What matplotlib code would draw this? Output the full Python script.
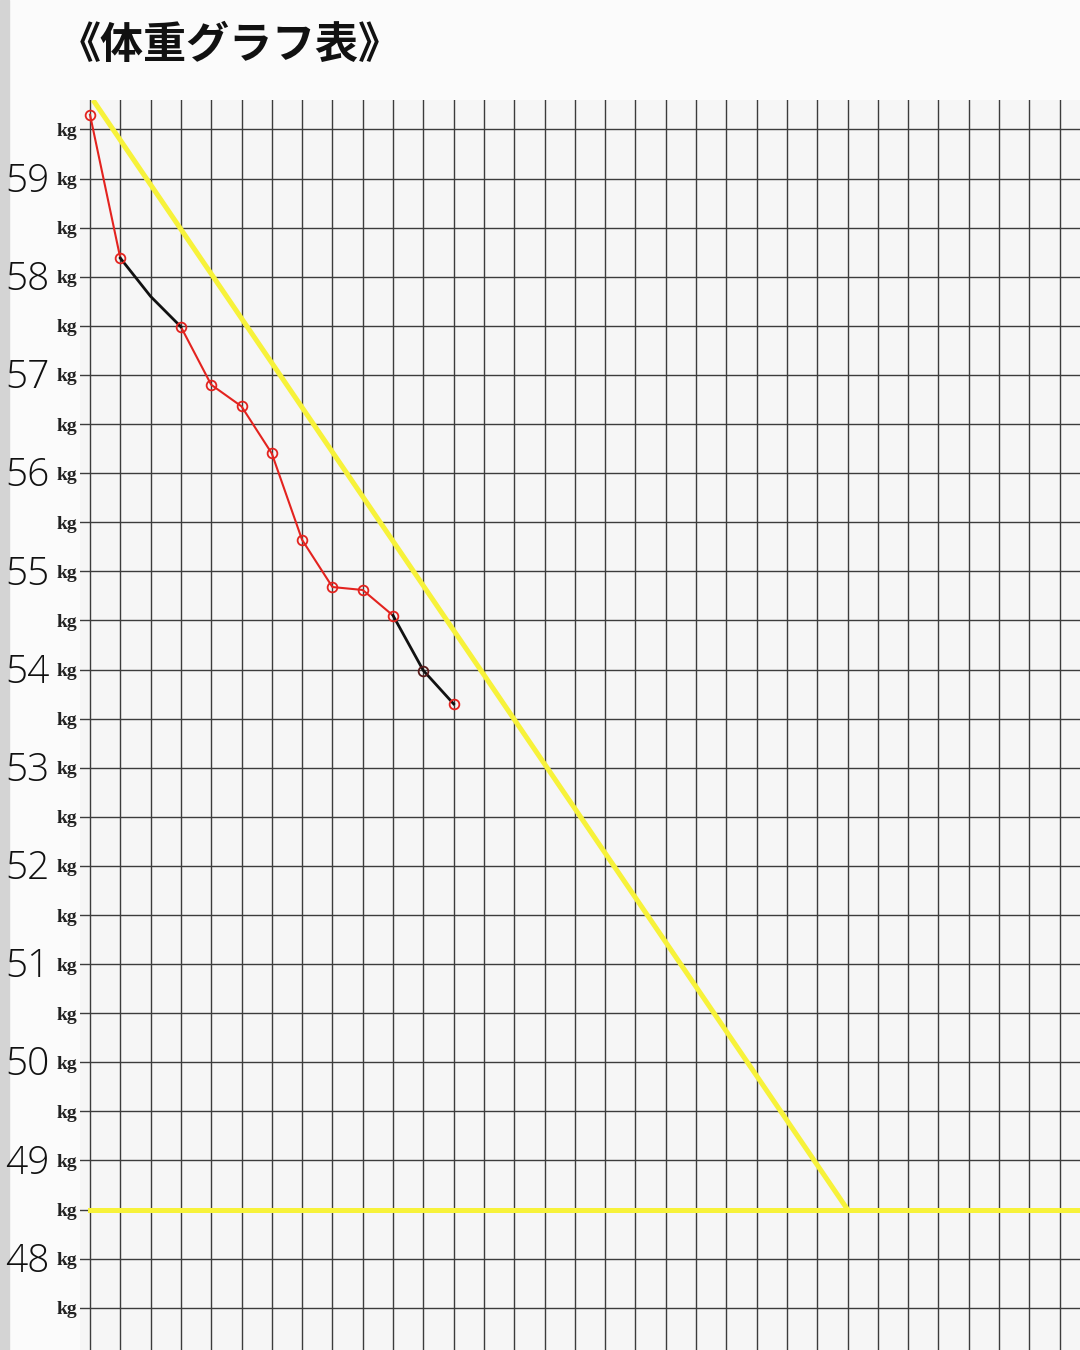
import matplotlib
matplotlib.use('Agg')
import matplotlib.pyplot as plt

# Hand-drawn weight chart on graph paper.
days = list(range(13))
weights = [59.65, 58.19, 57.80, 57.49, 56.90, 56.68, 56.20, 55.32, 54.84, 54.81, 54.55, 53.99, 53.65]
# which stretch of the line is drawn in which ink (start idx, end idx)
red_parts = [(0, 1), (3, 10)]
black_parts = [(1, 3), (10, 12)]
red_marks = [0, 1, 3, 4, 5, 6, 7, 8, 9, 10, 12]
dark_marks = [11]

goal_x = [0.1, 25, 32.7]
goal_y = [59.8, 48.5, 48.5]
goal_start_y = 48.5

levels = [47.5 + 0.5 * i for i in range(25)]
big_labels = [48, 49, 50, 51, 52, 53, 54, 55, 56, 57, 58, 59]
n_cols = 33

title = '《体重グラフ表》'

fig = plt.figure(figsize=(10.8, 13.5), dpi=100)
fig.patch.set_facecolor('#fbfbfb')
# edge of the sheet in the photo
fig.add_artist(plt.Rectangle((0, 0), 9 / 1080, 1, transform=fig.transFigure,
                             color='#d4d4d4', zorder=0))

ax = fig.add_axes([80 / 1080, 0, 1 - 80 / 1080, 1 - 100 / 1350])
ax.set_facecolor('#f6f6f6')
ax.set_xlim(-0.33, 32.67)
ax.set_ylim(47.07, 59.8)

# graph paper
for lv in levels:
    ax.plot([-0.33, 32.67], [lv, lv], color='#3c3c3c', lw=1.0, zorder=1)
for c in range(n_cols):
    ax.plot([c, c], [47.07, 59.8], color='#3c3c3c', lw=1.0, zorder=1)

# goal line (yellow marker pen)
ax.plot(goal_x[:2], goal_y[:2], color='#f7f23a', lw=3.6, zorder=2, solid_capstyle='butt')
ax.plot([0, goal_x[-1]], [goal_start_y, goal_y[-1]], color='#f7f23a', lw=3.6, zorder=2)

for a, b in red_parts:
    ax.plot(days[a:b + 1], weights[a:b + 1], color='#e3231f', lw=1.5, zorder=3)
for a, b in black_parts:
    ax.plot(days[a:b + 1], weights[a:b + 1], color='#111111', lw=2.0, zorder=3)
ax.plot([days[i] for i in red_marks], [weights[i] for i in red_marks], 'o', ms=7,
        mfc='none', mec='#e3231f', mew=1.3, zorder=4)
ax.plot([days[i] for i in dark_marks], [weights[i] for i in dark_marks], 'o', ms=7,
        mfc='none', mec='#5a1a1a', mew=1.3, zorder=4)

for s in ax.spines.values():
    s.set_visible(False)
ax.set_xticks([])
ax.set_yticks(levels)
ax.set_yticklabels(['kg'] * len(levels), family='Liberation Serif', fontsize=14,
                   fontweight='bold', color='#222222')
ax.tick_params(axis='y', length=0, pad=2)

tr = ax.get_yaxis_transform()
for v in big_labels:
    ax.text(-0.03, v - 0.03, str(v), transform=tr, ha='right', va='center',
            fontsize=28, family='Open Sans', fontweight='light', color='#111111')

fig.text(58 / 1080, 1 - 45 / 1350, title, family=['Noto Sans CJK JP', 'DejaVu Sans'],
         fontsize=31, fontweight='bold', ha='left', va='center', color='#111111')

fig.savefig('out.png', dpi=100, facecolor=fig.get_facecolor())
